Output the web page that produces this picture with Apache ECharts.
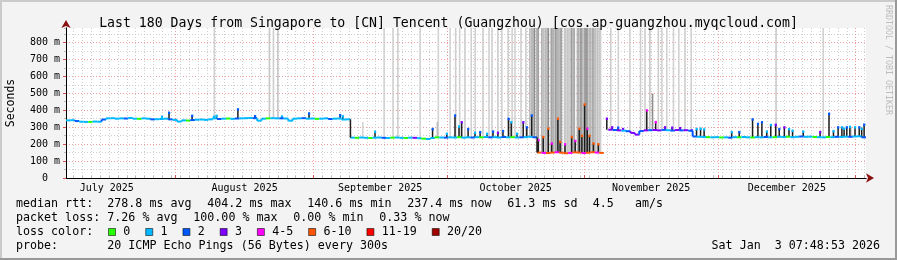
<!DOCTYPE html>
<html><head><meta charset="utf-8">
<script src="https://cdn.jsdelivr.net/npm/echarts@6/dist/echarts.min.js"></script>
<style>html,body{margin:0;padding:0;background:#f3f3f3}#c{width:897px;height:260px}</style>
</head><body><div id="c"></div>
<script>
// time unit: days since 2025-07-01 00:00 (local)
const START = 6.325, END = 186.325;   // Jul 7 07:48 .. Jan 3 07:48
const Y_MAX = 885;
const monthStarts = [31, 62, 92, 123, 153, 184];
const monthCenters = [15.5, 46.5, 77, 107.5, 138, 168.5];
const monthLabels = ['July 2025','August 2025','September 2025','October 2025','November 2025','December 2025'];
const gridDays = [];
for (let d = 8; d <= 186; d += 2) gridDays.push(d);

// daily median rtt (ms), one value per day starting at START
const medianMs = [
 340,341,336,332,331,331,333,332,345,352,
 353,350,352,351,354,350,349,352,350,346,
 347,348,350,346,343,333,340,339,342,344,
 345,343,346,352,348,350,351,349,351,352,
 353,354,353,338,350,352,353,352,352,351,
 338,350,352,353,350,351,349,350,352,348,
 350,351,345,346,238,237,239,237,236,238,
 239,237,236,238,239,237,236,238,237,235,
 232,230,236,240,239,238,240,239,241,238,
 240,239,241,240,242,240,241,239,242,240,
 241,239,240,241,243,240,150,148,147,150,
 152,149,146,148,151,150,147,149,152,150,
 148,null,285,283,281,279,276,266,256,277,
 281,282,283,281,284,282,280,283,281,282,
 279,245,243,242,241,240,241,239,240,238,
 241,240,242,240,239,241,240,242,240,241,
 243,242,244,241,243,245,243,244,242,241,
 240,242,241,243,242,244,243,245,246,240
];
// lost pings (of 20) per day
const lossPings = [
 1,1,2,1,1,0,1,1,2,1,1,1,1,2,1,1,0,1,1,2,1,1,1,2,1,
 1,1,0,2,1,1,1,1,1,2,1,0,1,2,1,1,1,2,1,1,0,1,1,2,1,1,1,1,2,1,1,0,1,1,2,1,1,1,1,
 1,0,1,1,0,1,1,2,1,0,1,1,0,1,3,1,0,1,1,0,1,2,1,1,0,1,1,2,1,0,1,2,1,1,2,1,0,1,2,1,1,2,
 8,5,8,8,5,8,8,5,8,8,5,8,8,5,8,
 20,
 3,2,3,1,2,3,3,2,3,2,3,3,2,1,2,3,2,3,2,
 2,1,1,0,1,1,0,1,2,1,0,1,1,0,1,1,2,1,0,1,1,0,1,1,2,1,1,0,1,1,0,1,2,1,1,2,1,1,2
];
// smoke: [day, top rtt ms, density 0..1]
const smokeLines = [
 [39.7,900,0.12],[52.1,900,0.2],[53.0,900,0.15],[54.0,900,0.2],
 [73.1,330,0.1],[77.9,900,0.12],[79.9,900,0.12],[81.0,900,0.15],[86.0,900,0.12],[89.9,332,0.4],[90.1,900,0.12],
 [92.75,900,0.12],[94.0,900,0.15],[94.9,900,0.12],[96.1,900,0.15],[97.5,900,0.12],[98.4,900,0.12],
 [100.15,900,0.15],[101.5,900,0.12],[102.2,900,0.12],[103.5,900,0.15],[104.4,900,0.12],[105.8,900,0.15],
 [106.7,900,0.12],[107.35,900,0.12],[108.7,900,0.15],[109.8,900,0.15],[110.7,900,0.3],[111.1,900,0.3],[111.4,900,0.35],
 [111.74,900,0.6],[112.3,900,0.45],[112.6,900,0.45],[113.4,900,0.4],[113.8,900,0.25],[114.2,900,0.3],
 [114.55,900,0.3],[114.85,900,0.6],[115.5,900,0.45],[115.9,900,0.45],[116.4,900,0.5],[116.8,900,0.5],
 [117.1,900,0.3],[117.5,900,0.45],[117.8,900,0.45],[118.5,900,0.2],[118.8,900,0.2],[119.2,900,0.2],
 [119.5,900,0.2],[120.0,900,0.5],[120.4,900,0.4],[120.7,900,0.4],[121.4,900,0.35],[121.7,900,0.35],
 [122.1,900,0.5],[122.4,900,0.5],[122.8,900,0.2],[123.1,900,0.55],[123.4,900,0.55],[123.7,900,0.45],
 [124.1,900,0.3],[124.4,900,0.3],[124.8,900,0.4],[125.1,900,0.4],[125.5,900,0.25],[125.9,900,0.25],
 [126.3,900,0.2],[126.6,900,0.15],
 [128.9,900,0.15],[130.6,900,0.12],[133.2,900,0.12],[135.6,900,0.15],[136.6,900,0.15],[137.7,900,0.2],
 [138.3,498,0.6],[139.6,900,0.15],[140.4,900,0.12],[141.5,900,0.12],[143.0,900,0.12],[144.2,900,0.12],[145.6,900,0.15],
 [147.0,900,0.12],[166.1,900,0.15],[176.7,900,0.12],[183.0,300,0.1]
];
// spikes: [day, top rtt ms, lost pings]
const spikeEvents = [
 [27.9,362,1],[29.5,386,2],[34.7,368,2],[39.6,362,1],[40.2,368,1],[45.0,406,2],[48.85,366,2],
 [54.9,364,1],[61.0,382,2],[68.0,372,2],[68.6,365,1],
 [75.85,274,1],[88.8,290,2],[92.0,262,1],[93.85,370,2],[94.75,305,1],[95.35,330,3],[96.8,290,2],
 [98.35,268,1],[99.5,272,2],[101.05,262,1],[102.4,275,2],[103.5,268,3],[104.65,278,2],[105.9,350,2],
 [106.5,330,1],[107.8,262,1],[109.2,330,3],[110.0,300,2],[111.1,370,2],
 [112.4,214,8],[112.6,225,5],[113.7,243,8],[114.85,292,8],[115.6,205,5],[117.0,351,8],[117.5,214,8],
 [118.6,200,5],[120.1,243,8],[120.9,220,5],[121.8,292,8],[122.4,250,8],[123.0,435,8],[123.6,292,5],
 [124.1,250,8],[125.0,205,8],[126.1,200,8],
 [128.0,351,3],[129.2,300,3],[130.55,298,2],[131.65,290,3],[137.0,400,4],[139.0,331,4],[141.1,300,3],
 [142.7,298,3],[144.5,295,3],
 [147.1,282,3],[148.2,290,1],[149.1,292,1],[149.9,288,1],[156.1,272,1],[157.8,272,2],[160.8,347,2],
 [162.0,320,2],[162.9,330,2],[164.0,275,1],[164.9,314,1],[166.0,315,3],[166.8,290,2],[167.95,300,3],
 [169.0,290,1],[169.8,280,1],[172.2,275,1],[176.0,272,3],[178.0,380,2],[179.0,278,1],[180.05,300,2],
 [180.9,300,1],[181.4,292,1],[182.0,300,2],[182.7,303,1],[183.85,300,1],[184.8,300,2],[185.35,292,1],[185.9,316,2]
];
const lossLabels = ['0','1','2','3','4-5','6-10','11-19','20/20'];
const lossColors = ['#26ff00','#00b8ff','#0059ff','#7e00ff','#ff00ff','#ff5500','#ff0000','#a10000'];
const rttStats = ['278.8 ms avg','404.2 ms max','140.6 ms min','237.4 ms now','61.3 ms sd','4.5','am/s'];
const lossStats = ['7.26 % avg','100.00 % max','0.00 % min','0.33 % now'];
const probeText = '20 ICMP Echo Pings (56 Bytes) every 300s';
const stampText = 'Sat Jan  3 07:48:53 2026';
const titleText = 'Last 180 Days from Singapore to [CN] Tencent (Guangzhou) [cos.ap-guangzhou.myqcloud.com]';

const MONO = '"DejaVu Sans Mono", monospace';
function lossIndex(n){ if(n<=3) return n; if(n<=5) return 4; if(n<=10) return 5; if(n<=19) return 6; return 7; }
function lossColor(n){ return lossColors[lossIndex(n)]; }
function medianAt(d){
  const i = Math.floor(d - START);
  let v = medianMs[i];
  if (v == null) v = medianMs[i+1];
  if (v == null) v = medianMs[i-1];
  return v;
}

const medianData = [];
medianMs.forEach((v,i)=>{ if (v != null) medianData.push([START+i, v, lossPings[i], i]); });

function renderMedian(params, api){
  const d = api.value(0), v = api.value(1), loss = api.value(2), i = api.value(3);
  const a = api.coord([d, v]), b = api.coord([d+1, v]);
  const col = lossColor(loss);
  const ch = [{type:'line', shape:{x1:a[0],y1:a[1],x2:b[0],y2:b[1]}, style:{stroke:col,lineWidth:2}}];
  const pv = medianMs[i-1];
  if (i > 0 && pv != null && pv !== v){
    const c = api.coord([d, pv]);
    const big = Math.abs(pv - v) > 60;
    ch.push({type:'line', shape:{x1:a[0],y1:c[1],x2:a[0],y2:a[1]}, style:{stroke: big ? '#222' : col, lineWidth: big ? 1.5 : 2}});
  }
  return {type:'group', children:ch};
}
function renderSmoke(params, api){
  const d = api.value(0), top = Math.min(api.value(1), Y_MAX), dens = api.value(2);
  const base = medianAt(d);
  const p0 = api.coord([d, base]), p1 = api.coord([d, top]);
  const g = Math.round(226 - 140*dens);
  return {type:'rect', shape:{x:p0[0]-0.8, y:p1[1], width:1.6, height:p0[1]-p1[1]}, style:{fill:'rgb('+g+','+g+','+g+')'}};
}
function renderSpike(params, api){
  const d = api.value(0), top = api.value(1), loss = api.value(2);
  const base = medianAt(d);
  const p0 = api.coord([d, base]), p1 = api.coord([d, top]);
  return {type:'group', children:[
    {type:'rect', shape:{x:p0[0]-0.75, y:p1[1], width:1.5, height:Math.max(0,p0[1]-p1[1])}, style:{fill:'#1c1c1c'}},
    {type:'rect', shape:{x:p0[0]-1, y:p1[1]-1, width:2.2, height:2.5}, style:{fill:lossColor(loss)}}
  ]};
}

function txt(x, y, text, extra){
  return {type:'text', x:x, y:y, silent:true,
    style:Object.assign({text:text, fontFamily:MONO, fontSize:11.66, fill:'#000',
      align:'left', verticalAlign:'middle', textAlign:'left', textVerticalAlign:'middle'}, extra||{})};
}
const CW = 7.02;
const graphics = [
  {type:'rect', shape:{x:0,y:0,width:897,height:2}, style:{fill:'#cbcbcb'}, silent:true},
  {type:'rect', shape:{x:0,y:0,width:2,height:260}, style:{fill:'#cbcbcb'}, silent:true},
  {type:'rect', shape:{x:0,y:258,width:897,height:2}, style:{fill:'#999999'}, silent:true},
  {type:'rect', shape:{x:895,y:0,width:2,height:260}, style:{fill:'#999999'}, silent:true},
  {type:'text', x:888, y:5, rotation:-Math.PI/2, silent:true,
    style:{text:'RRDTOOL / TOBI OETIKER', fontFamily:MONO, fontSize:8.3, fill:'#bdbdbd',
      align:'left', verticalAlign:'middle', textAlign:'left', textVerticalAlign:'middle'}},
  txt(16, 204, 'median rtt:'),
  txt(16, 218, 'packet loss:'),
  txt(16, 232, 'loss color:'),
  txt(16, 246, 'probe:'),
  txt(107.3, 246, probeText),
  txt(880, 246, stampText, {align:'right', textAlign:'right'})
];
const rttX = [107.3, 207.3, 307.3, 407.3, 507.3, 592.7, 635];
rttStats.forEach((s,k)=>graphics.push(txt(rttX[k], 204, s)));
const lossX = [107.3, 193.3, 293.3, 379.3];
lossStats.forEach((s,k)=>graphics.push(txt(lossX[k], 218, s)));
let bx = 108.5;
lossLabels.forEach((lab,k)=>{
  graphics.push({type:'rect', silent:true, shape:{x:bx, y:228.5, width:7, height:7},
    style:{fill:lossColors[k], stroke:'rgba(0,0,0,0.55)', lineWidth:1}});
  graphics.push(txt(bx+14.8, 232, lab));
  bx = bx + 14.8 + lab.length*CW + 15.4;
});

const chart = echarts.init(document.getElementById('c'), null, {renderer:'canvas', width:897, height:260});
chart.setOption({
  animation:false,
  backgroundColor:'#f3f3f3',
  title:{text:titleText, left:'center', top:12, textStyle:{fontFamily:MONO, fontSize:13.2, fontWeight:'normal', color:'#000'}},
  grid:{left:66, right:31, top:28, bottom:82, show:true, backgroundColor:'#ffffff', borderWidth:0,
    containLabel:false, outerBoundsMode:'none'},
  xAxis:[
    {type:'value', min:START, max:END, position:'bottom',
      axisLine:{show:true, onZero:false, symbol:['none','arrow'], symbolSize:[7,8], symbolOffset:[0,8], lineStyle:{color:'#8b1010', width:1}},
      axisTick:{show:true, customValues:gridDays, inside:true, length:2, lineStyle:{color:'#bbbbbb'}},
      axisLabel:{show:false},
      splitLine:{show:true, lineStyle:{color:'#cfcfcf', width:1, type:[1,2]}}},
    {type:'value', min:START, max:END, position:'bottom',
      axisLine:{show:true, onZero:false, lineStyle:{color:'#000', width:1}},
      axisTick:{show:true, customValues:monthStarts, inside:true, length:3, lineStyle:{color:'#e05050'}},
      axisLabel:{customValues:monthCenters, formatter:(v)=>{const k=monthCenters.indexOf(v); return k>=0?monthLabels[k]:'';},
        fontFamily:MONO, fontSize:10, color:'#000', margin:5},
      splitLine:{show:true, lineStyle:{color:'#f0a0a0', width:1, type:[1,2]}}}
  ],
  yAxis:[
    {type:'value', min:0, max:Y_MAX, interval:50, position:'left',
      axisLine:{show:true, onZero:false, symbol:['none','arrow'], symbolSize:[7,8], symbolOffset:[0,8], lineStyle:{color:'#8b1010'}},
      axisTick:{show:true, length:2, lineStyle:{color:'#bbbbbb'}},
      axisLabel:{show:false},
      splitLine:{show:true, showMinLine:false, showMaxLine:false, lineStyle:{color:'#cfcfcf', type:[1,2]}}},
    {type:'value', min:0, max:Y_MAX, interval:100, position:'left',
      name:'Seconds', nameLocation:'middle', nameRotate:90, nameGap:49,
      nameTextStyle:{fontFamily:MONO, fontSize:11.5, color:'#000'},
      axisLine:{show:true, onZero:false, lineStyle:{color:'#000'}},
      axisTick:{show:true, length:3, lineStyle:{color:'#e05050'}},
      axisLabel:{fontFamily:MONO, fontSize:10, color:'#000', margin:6, showMaxLabel:false,
        formatter:(v)=> v===0 ? '0\u00a0\u00a0' : (v+' m')},
      splitLine:{show:true, showMinLine:false, showMaxLine:false, lineStyle:{color:'#f0a0a0', type:[1,2]}}}
  ],
  series:[
    {type:'custom', name:'smoke', xAxisIndex:1, yAxisIndex:1, data:smokeLines, renderItem:renderSmoke, encode:{x:0,y:1}, silent:true, z:2},
    {type:'custom', name:'spikes', xAxisIndex:1, yAxisIndex:1, data:spikeEvents, renderItem:renderSpike, encode:{x:0,y:1}, silent:true, z:3},
    {type:'custom', name:'median', xAxisIndex:1, yAxisIndex:1, data:medianData, renderItem:renderMedian, encode:{x:0,y:1}, silent:true, z:4}
  ],
  graphic:graphics
});
</script></body></html>
